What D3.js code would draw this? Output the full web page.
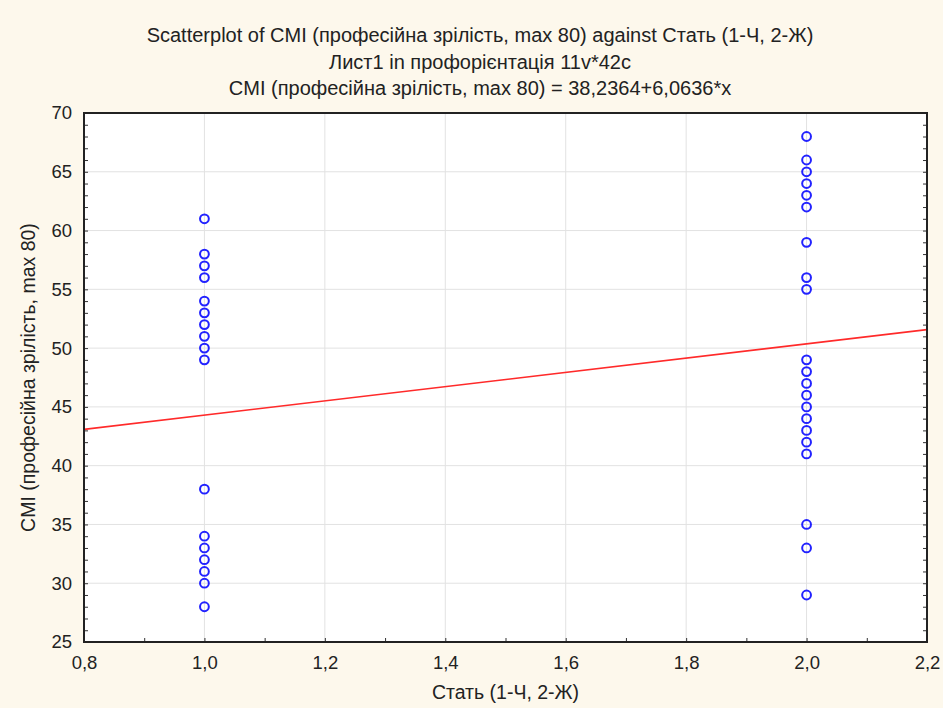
<!doctype html>
<html>
<head>
<meta charset="utf-8">
<title>Scatterplot CMI</title>
<script src="https://d3js.org/d3.v7.min.js"></script>
<style>
  body { margin: 0; background: #fdf8ec; }
  svg { display: block; font-family: "Liberation Sans", Arial, sans-serif; }
</style>
</head>
<body>
<svg id="chart" width="943" height="708"></svg>
<script>
// data
const titleLines = [
  "Scatterplot of CMI (професійна зрілість, max 80) against Стать (1-Ч, 2-Ж)",
  "Лист1 in профорієнтація 11v*42c",
  "CMI (професійна зрілість, max 80) = 38,2364+6,0636*x"
];
const xLabel = "Стать (1-Ч, 2-Ж)";
const yLabel = "CMI (професійна зрілість, max 80)";

const maleCMI = [61, 58, 57, 56, 54, 53, 52, 51, 50, 49, 38, 34, 33, 32, 31, 30, 28];
const femaleCMI = [68, 66, 65, 64, 63, 62, 59, 56, 55, 49, 48, 47, 46, 45, 44, 43, 42, 41, 35, 33, 29];
const fit = { a: 38.2364, b: 6.0636 };

const xTicks = [0.8, 1.0, 1.2, 1.4, 1.6, 1.8, 2.0, 2.2];
const yTicks = [25, 30, 35, 40, 45, 50, 55, 60, 65, 70];

const points = maleCMI.map(v => ({ x: 1, y: v }))
  .concat(femaleCMI.map(v => ({ x: 2, y: v })));

const svg = d3.select("#chart");
const margin = { top: 113, right: 16, bottom: 66, left: 84 };
const width = 943 - margin.left - margin.right,
      height = 708 - margin.top - margin.bottom;

const x = d3.scaleLinear().domain([0.8, 2.2]).range([0, width]);
const y = d3.scaleLinear().domain([25, 70]).range([height, 0]);

const fmt = d => d3.format(".1f")(d).replace(".", ",");

// titles
svg.append("g")
  .selectAll("text")
  .data(titleLines)
  .join("text")
    .attr("x", 480)
    .attr("y", (d, i) => 42 + i * 26.5)
    .attr("text-anchor", "middle")
    .attr("font-size", "20px")
    .attr("fill", "#222")
    .text(d => d);

const g = svg.append("g")
  .attr("transform", `translate(${margin.left},${margin.top})`);

// plot background
g.append("rect")
  .attr("width", width)
  .attr("height", height)
  .attr("fill", "#fff");

// grid
g.append("g")
  .selectAll("line")
  .data(xTicks.slice(1, -1))
  .join("line")
    .attr("x1", d => x(d)).attr("x2", d => x(d))
    .attr("y1", 0).attr("y2", height)
    .attr("stroke", "#e2e2e2");
g.append("g")
  .selectAll("line")
  .data(yTicks.slice(1, -1))
  .join("line")
    .attr("y1", d => y(d)).attr("y2", d => y(d))
    .attr("x1", 0).attr("x2", width)
    .attr("stroke", "#e2e2e2");

// axes with minor ticks
const xMinor = d3.range(0.8, 2.2001, 0.1);
const yMinor = d3.range(25, 70.001, 1);

g.append("g")
  .attr("transform", `translate(0,${height})`)
  .call(d3.axisBottom(x).tickValues(xMinor).tickSize(-4).tickFormat(""))
  .call(a => a.select(".domain").remove())
  .selectAll("line").attr("stroke", "#333");
g.append("g")
  .call(d3.axisLeft(y).tickValues(yMinor).tickSize(-4).tickFormat(""))
  .call(a => a.select(".domain").remove())
  .selectAll("line").attr("stroke", "#333");
g.append("g")
  .attr("transform", `translate(${width},0)`)
  .call(d3.axisRight(y).tickValues(yMinor).tickSize(-4).tickFormat(""))
  .call(a => a.select(".domain").remove())
  .selectAll("line").attr("stroke", "#333");

// tick labels
g.append("g")
  .attr("transform", `translate(0,${height})`)
  .call(d3.axisBottom(x).tickValues(xTicks).tickSize(0).tickPadding(14).tickFormat(fmt))
  .call(a => a.select(".domain").remove())
  .selectAll("text")
    .attr("font-size", "18.5px")
    .attr("font-family", "Liberation Sans, sans-serif")
    .attr("fill", "#222");
g.append("g")
  .call(d3.axisLeft(y).tickValues(yTicks).tickSize(0).tickPadding(12))
  .call(a => a.select(".domain").remove())
  .selectAll("text")
    .attr("font-size", "18.5px")
    .attr("font-family", "Liberation Sans, sans-serif")
    .attr("fill", "#222");

// regression line
const lineG = g.append("g");
lineG.append("clipPath").attr("id", "clip")
  .append("rect").attr("width", width).attr("height", height);
lineG.append("line")
  .attr("clip-path", "url(#clip)")
  .attr("x1", x(0.8)).attr("y1", y(fit.a + fit.b * 0.8))
  .attr("x2", x(2.2)).attr("y2", y(fit.a + fit.b * 2.2))
  .attr("stroke", "#ff2a2a")
  .attr("stroke-width", 1.6);

// points
g.append("g")
  .selectAll("circle")
  .data(points)
  .join("circle")
    .attr("cx", d => x(d.x))
    .attr("cy", d => y(d.y))
    .attr("r", 4.4)
    .attr("fill", "none")
    .attr("stroke", "#2222ff")
    .attr("stroke-width", 2);

// frame
g.append("rect")
  .attr("width", width)
  .attr("height", height)
  .attr("fill", "none")
  .attr("stroke", "#222")
  .attr("stroke-width", 2);

// axis labels
svg.append("text")
  .attr("x", margin.left + width / 2)
  .attr("y", 699)
  .attr("text-anchor", "middle")
  .attr("font-size", "19.5px")
  .attr("fill", "#222")
  .text(xLabel);
svg.append("text")
  .attr("transform", `translate(35,${margin.top + height / 2}) rotate(-90)`)
  .attr("text-anchor", "middle")
  .attr("font-size", "19.5px")
  .attr("fill", "#222")
  .text(yLabel);
</script>
</body>
</html>
